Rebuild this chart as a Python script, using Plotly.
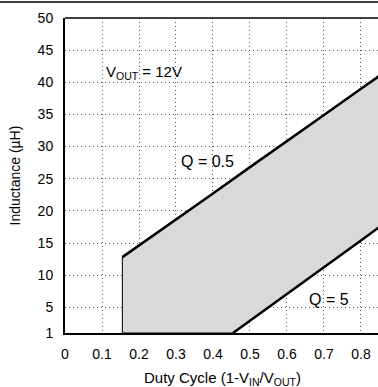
import plotly.graph_objects as go

# Data
duty_q05 = [0.155, 0.2, 0.3, 0.4, 0.5, 0.6, 0.7, 0.8, 0.9]
ind_q05 = [12.8, 14.6, 18.7, 22.7, 26.8, 30.8, 34.9, 39.0, 43.0]
duty_q5 = [0.454, 0.5, 0.6, 0.7, 0.8, 0.9]
ind_q5 = [1.0, 2.9, 7.1, 11.3, 15.4, 19.6]
x_ticks = [0, 0.1, 0.2, 0.3, 0.4, 0.5, 0.6, 0.7, 0.8]
x_ticklabels = ["0", "0.1", "0.2", "0.3", "0.4", "0.5", "0.6", "0.7", "0.8"]
y_ticks = [1, 5, 10, 15, 20, 25, 30, 35, 40, 45, 50]
y_ticklabels = ["1", "5", "10", "15", "20", "25", "30", "35", "40", "45", "50"]
y_min = 1

# shaded region polygon between the two curves
fill_x = [duty_q05[0]] + duty_q05 + duty_q5[::-1] + [duty_q05[0]]
fill_y = [y_min] + ind_q05 + ind_q5[::-1] + [y_min]

FONT = "Liberation Sans, Arial, sans-serif"
PW, PH = 313, 315  # plot area size in px

fig = go.Figure()
fig.add_trace(go.Scatter(x=fill_x, y=fill_y, mode="lines", fill="toself",
                         fillcolor="#d9d9d9", line=dict(color="black", width=1),
                         hoverinfo="skip", showlegend=False))
fig.add_trace(go.Scatter(x=duty_q05, y=ind_q05, mode="lines",
                         line=dict(color="black", width=2.5), showlegend=False))
fig.add_trace(go.Scatter(x=duty_q5, y=ind_q5, mode="lines",
                         line=dict(color="black", width=2.5), showlegend=False))

fig.update_layout(
    width=378, height=387,
    margin=dict(l=65, r=0, t=18, b=54),
    paper_bgcolor="white", plot_bgcolor="white",
    font=dict(family=FONT, size=14, color="black"),
    xaxis=dict(range=[0, 0.846], tickvals=x_ticks, ticktext=x_ticklabels,
               showgrid=True, gridcolor="#555", griddash="1px,3px", gridwidth=1,
               showline=True, linecolor="black", linewidth=2, zeroline=False,
               ticks="", ticklabelstandoff=7, tickfont=dict(size=14)),
    yaxis=dict(range=[y_min, 50], tickvals=y_ticks, ticktext=y_ticklabels,
               showgrid=True, gridcolor="#555", griddash="1px,3px", gridwidth=1,
               showline=True, linecolor="black", linewidth=2, zeroline=False,
               ticks="", ticklabelstandoff=7, tickfont=dict(size=14)),
    shapes=[
        dict(type="line", xref="paper", yref="paper", x0=0, x1=1, y0=1, y1=1,
             line=dict(color="black", width=1.5)),
        dict(type="line", xref="paper", yref="paper", x0=-0.3, x1=1.1,
             y0=1 + 16 / PH, y1=1 + 16 / PH, line=dict(color="black", width=1.5)),
    ],
    annotations=[
        dict(x=0.105, y=41.6, xref="x", yref="y", xanchor="left", yanchor="middle",
             text="V<sub>OUT</sub> = 12V", showarrow=False, font=dict(size=15)),
        dict(x=0.384, y=27.7, xref="x", yref="y", xanchor="center", yanchor="middle",
             text="Q = 0.5", showarrow=False, font=dict(size=16)),
        dict(x=0.714, y=6.2, xref="x", yref="y", xanchor="center", yanchor="middle",
             text="Q = 5", showarrow=False, font=dict(size=16)),
        dict(x=(222 - 65) / PW, y=-(378 - 333) / PH, xref="paper", yref="paper",
             xanchor="center", yanchor="middle", showarrow=False,
             text="Duty Cycle (1-V<sub>IN</sub>/V<sub>OUT</sub>)", font=dict(size=15)),
        dict(x=-(65 - 14) / PW, y=0.5, xref="paper", yref="paper",
             xanchor="center", yanchor="middle", showarrow=False, textangle=-90,
             text="Inductance (µH)", font=dict(size=14)),
    ],
)

fig.write_html("out.html", config={"displayModeBar": False},
               post_script="document.body.style.margin='0';document.body.style.overflow='hidden';")
